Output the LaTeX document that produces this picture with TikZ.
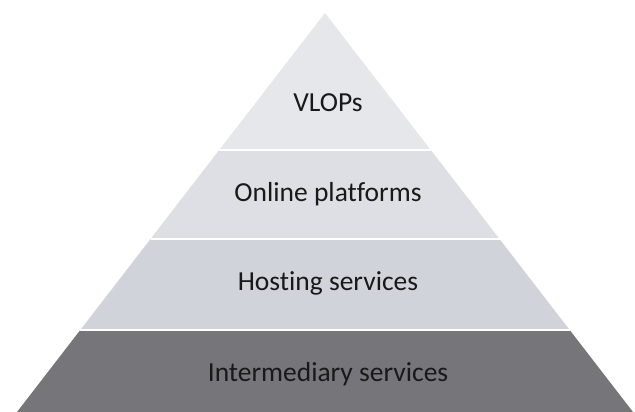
\documentclass[tikz,border=0pt]{standalone}
\usepackage{fontspec}
\setmainfont{Carlito}[Ligatures=NoCommon]
\usetikzlibrary{positioning}

\definecolor{tierA}{HTML}{E6E7EB}
\definecolor{tierB}{HTML}{DEDFE4}
\definecolor{tierC}{HTML}{D1D3DB}
\definecolor{tierD}{HTML}{76757A}

\begin{document}
\begin{tikzpicture}[x=1pt,y=-1pt,
    every node/.style={font=\fontsize{27.5}{32}\selectfont,text=black!90},
    tier/.style={draw=white,line width=1.5pt,line join=miter}]
  \useasboundingbox (0,0) rectangle (635,412);
  % layers, top to bottom
  \fill[tierD] (80.3,330) -- (569.7,330) -- (633,412) -- (17,412) -- cycle;
  \fill[tierC] (150.5,239) -- (499.5,239) -- (569.7,330) -- (80.3,330) -- cycle;
  \fill[tierB] (219.2,150) -- (430.8,150) -- (499.5,239) -- (150.5,239) -- cycle;
  \fill[tierA] (325,13) -- (430.8,150) -- (219.2,150) -- cycle;
  \draw[tier] (219.2,150) -- (430.8,150);
  \draw[tier] (150.5,239) -- (499.5,239);
  \draw[tier] (80.3,330) -- (569.7,330);

  \node (vlops) at (328,103) {VLOPs};
  \node [below= 91pt of vlops.center, anchor=center] (online) {Online platforms};
  \node [below= 89pt of online.center, anchor=center] (hosting) {Hosting services};
  \node [below= 91pt of hosting.center, anchor=center] (inter) {Intermediary services};
\end{tikzpicture}
\end{document}
